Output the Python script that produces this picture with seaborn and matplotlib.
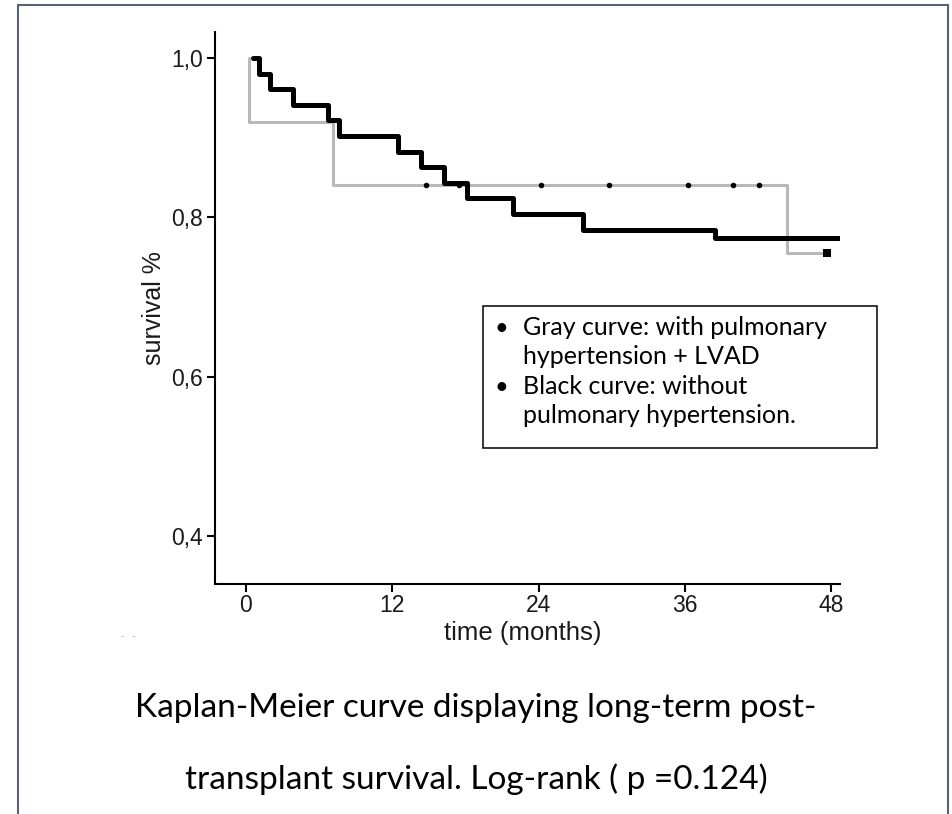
import matplotlib
matplotlib.use("Agg")
import matplotlib.pyplot as plt
import seaborn as sns
from matplotlib.patches import Rectangle

# ---- data ----
black_time = [0.57, 1.07, 1.97, 3.85, 6.72, 7.62, 12.46, 14.34, 16.23, 18.11, 21.89, 27.62, 38.44, 48.7]
black_surv = [1.0, 0.980, 0.961, 0.941, 0.922, 0.902, 0.882, 0.863, 0.843, 0.824, 0.804, 0.784, 0.774, 0.774]
gray_time = [0.25, 0.25, 7.13, 44.34, 47.6]
gray_surv = [1.0, 0.92, 0.84, 0.755, 0.755]
gray_cens_time = [14.75, 17.46, 24.18, 29.75, 36.23, 39.92, 42.05]
gray_cens_surv = [0.84, 0.84, 0.84, 0.84, 0.84, 0.84, 0.84]
end_cens_time = [47.6]
end_cens_surv = [0.755]
x_ticks = [0, 12, 24, 36, 48]
y_ticks = [0.4, 0.6, 0.8, 1.0]
y_tick_labels = ["0,4", "0,6", "0,8", "1,0"]
legend_lines = ["Gray curve: with pulmonary", "hypertension + LVAD",
                "Black curve: without", "pulmonary hypertension."]
caption_lines = ["Kaplan-Meier curve displaying long-term post-",
                 "transplant survival. Log-rank ( p =0.124)"]

sns.set_theme(style="white")
plt.rcParams["font.family"] = ["Liberation Sans", "DejaVu Sans"]

W, H = 952, 814
fig = plt.figure(figsize=(W / 100, H / 100), dpi=100)
fig.patch.set_facecolor("white")

def fx(px):
    return px / W

def fy(py):
    return 1 - py / H

ax = fig.add_axes([fx(215), fy(584), 625 / W, (584 - 32) / H])
ax.set_facecolor("white")

sns.lineplot(x=gray_time, y=gray_surv, ax=ax, drawstyle="steps-post",
             estimator=None, sort=False, color="#b8b8b8", linewidth=2.2, zorder=2)
sns.lineplot(x=black_time, y=black_surv, ax=ax, drawstyle="steps-post",
             estimator=None, sort=False, color="black", linewidth=3.6, zorder=3)
sns.scatterplot(x=gray_cens_time, y=gray_cens_surv, ax=ax, color="black",
                s=16, marker="o", linewidth=0, zorder=4)
sns.scatterplot(x=end_cens_time, y=end_cens_surv, ax=ax, color="black",
                s=36, marker="s", linewidth=0, zorder=4)

ax.set_xlim(-2.54, 48.7)
ax.set_ylim(0.3396, 1.0326)
ax.set_xticks(x_ticks)
ax.set_xticklabels([str(t) for t in x_ticks])
ax.set_yticks(y_ticks)
ax.set_yticklabels(y_tick_labels)
ax.tick_params(axis="both", direction="out", length=6, width=1.5, color="black",
               labelsize=16.5, labelcolor="#1a1a1a", pad=2.5,
               bottom=True, left=True)
ax.tick_params(axis="x", pad=1.0)
for side in ["top", "right"]:
    ax.spines[side].set_visible(False)
for side in ["left", "bottom"]:
    ax.spines[side].set_color("black")
    ax.spines[side].set_linewidth(1.5)
ax.grid(False)

ax.set_xlabel("time (months)", fontsize=18.5, color="#1a1a1a")
ax.set_ylabel("survival %", fontsize=18, color="#1a1a1a")
ax.xaxis.set_label_coords(0.493, -0.067)
ax.yaxis.set_label_coords(-0.078, 0.5)

# legend box
fig.patches.append(Rectangle((fx(483), fy(448)), (877 - 483) / W, (448 - 306) / H,
                             transform=fig.transFigure, fill=False,
                             edgecolor="black", linewidth=1.1))
baselines = [335, 364, 394, 423]
for i, (line, base) in enumerate(zip(legend_lines, baselines)):
    if i in (0, 2):
        fig.text(fx(494), fy(base), "\u2022", fontsize=17, family=["Lato", "DejaVu Sans"],
                 va="baseline", ha="left", color="black")
    fig.text(fx(523), fy(base), line, fontsize=18, family=["Lato", "DejaVu Sans"],
             va="baseline", ha="left", color="black")

# caption
for line, base in zip(caption_lines, [717, 789]):
    fig.text(fx(476), fy(base), line, fontsize=24, family=["Lato", "DejaVu Sans"],
             va="baseline", ha="center", color="black")

# small crop artifact
fig.text(fx(128), fy(636), "-   -", fontsize=7, color="#aaaaaa", ha="center", va="center")

# outer frame
fig.patches.append(Rectangle((fx(18), fy(830)), (948 - 18) / W, (830 - 5) / H,
                             transform=fig.transFigure, fill=False,
                             edgecolor="#596275", linewidth=1.5))

fig.savefig("out.png", dpi=100, facecolor="white")
